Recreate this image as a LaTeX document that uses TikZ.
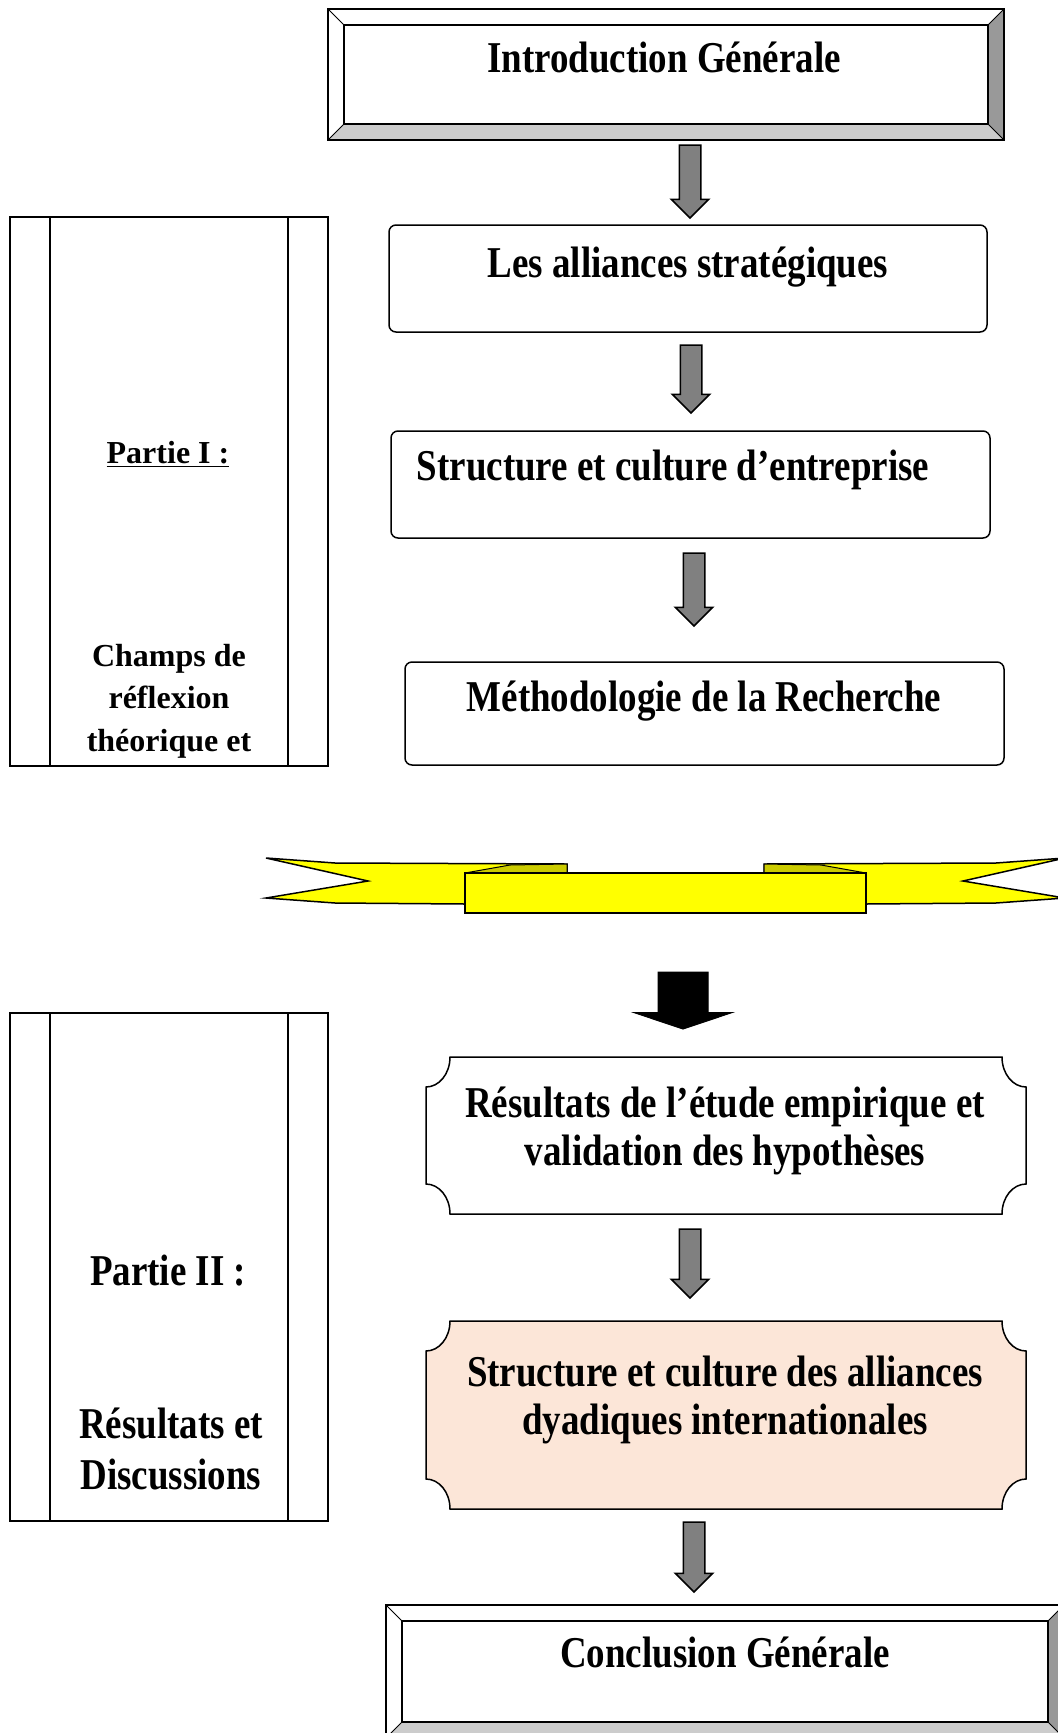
\documentclass[tikz,border=0pt]{standalone}
\usepackage{fontspec}
\setmainfont{Liberation Serif}
\newfontfamily\tallfont[FakeStretch=0.84]{Liberation Serif}
\usetikzlibrary{calc,shapes.arrows}
\definecolor{arrowgray}{HTML}{808080}
\definecolor{bevellight}{HTML}{CCCCCC}
\definecolor{beveldark}{HTML}{999999}
\definecolor{peach}{HTML}{FCE6D8}
\definecolor{ribbonyellow}{HTML}{FFFF00}
\definecolor{folddark}{HTML}{CCCC00}

% bevelled frame around a named node
\newcommand{\bevelframe}[1]{%
  \fill[bevellight] (#1.south west) -- (#1.south east) -- ($(#1.south east)+(-16,16)$) -- ($(#1.south west)+(16,16)$) -- cycle;
  \fill[beveldark] (#1.north east) -- (#1.south east) -- ($(#1.south east)+(-16,16)$) -- ($(#1.north east)+(-16,-16)$) -- cycle;
  \draw[line width=1.5pt] (#1.north west) rectangle (#1.south east);
  \draw[line width=1.5pt] ($(#1.north west)+(16,-16)$) rectangle ($(#1.south east)+(-16,16)$);
  \draw[line width=1pt] (#1.north west) -- ++(16,-16) (#1.north east) -- ++(-16,-16)
    (#1.south west) -- ++(16,16) (#1.south east) -- ++(-16,16);
}
% plaque with concave corners around a named node
\newcommand{\plaque}[2]{%
  \draw[line width=1.5pt, fill=#2]
    ($(#1.north west)+(24,0)$) -- ($(#1.north east)+(-24,0)$)
    .. controls ($(#1.north east)+(-24,-17)$) and ($(#1.north east)+(-13,-30)$) .. ($(#1.north east)+(0,-30)$)
    -- ($(#1.south east)+(0,30)$)
    .. controls ($(#1.south east)+(-13,30)$) and ($(#1.south east)+(-24,17)$) .. ($(#1.south east)+(-24,0)$)
    -- ($(#1.south west)+(24,0)$)
    .. controls ($(#1.south west)+(24,17)$) and ($(#1.south west)+(13,30)$) .. ($(#1.south west)+(0,30)$)
    -- ($(#1.north west)+(0,-30)$)
    .. controls ($(#1.north west)+(13,-30)$) and ($(#1.north west)+(24,-17)$) .. cycle;
}

\begin{document}
\begin{tikzpicture}[x=1pt, y=1pt,
  frame/.style={inner sep=0pt, outer sep=0pt},
  box/.style={draw, line width=1.5pt, rounded corners=7pt, fill=white, inner sep=0pt, outer sep=0pt},
  partbox/.style={draw, line width=1.5pt, inner sep=0pt, outer sep=0pt},
  title/.style={font=\tallfont\bfseries\fontsize{44}{48}\selectfont, align=center, inner sep=0pt},
  side/.style={font=\bfseries\fontsize{32}{42.5}\selectfont, align=center, inner sep=0pt},
  grayarrow/.style={single arrow, draw, fill=arrowgray, line width=1.5pt, rotate=-90, anchor=tail,
    inner xsep=0pt, inner ysep=10pt, single arrow head extend=8pt, outer sep=0pt},
  bigarrow/.style={single arrow, draw, fill=black, line width=1pt, rotate=-90, anchor=tail,
    inner xsep=0pt, inner ysep=24.5pt, minimum height=57pt, single arrow head extend=24pt,
    single arrow tip angle=143, outer sep=0pt},
]
\useasboundingbox (0,0) rectangle (1058,-1733);

% part I
\node[frame, minimum width=676pt, minimum height=131pt] (intro) at (666,-74.5) {};
\bevelframe{intro}
\node[title] (intro-t) at (664,-57.5) {Introduction Générale};

\node[box, minimum width=598pt, minimum height=107pt] (alli) at (688,-278.5) {};
\node[title] (alli-t) at (688,-267) {Les alliances stratégiques};
\node[box, minimum width=599pt, minimum height=107pt] (struct) at (690.5,-484.5) {};
\node[title] (struct-t) at (673,-470) {Structure et culture d’entreprise};
\node[box, minimum width=599pt, minimum height=103pt] (meth) at (704.5,-713.5) {};
\node[title] (meth-t) at (704,-701) {Méthodologie de la Recherche};

\node[grayarrow, minimum height=73pt] (ar1) at (690,-145) {};
\node[grayarrow, minimum height=68pt] (ar2) at (691,-345) {};
\node[grayarrow, minimum height=73pt] (ar3) at (694,-553) {};

\node[partbox, minimum width=318pt, minimum height=549pt] (p1) at (169,-491.5) {};
\draw[line width=1.5pt] ([xshift=40pt]p1.north west) -- ([xshift=40pt]p1.south west)
  ([xshift=-40pt]p1.north east) -- ([xshift=-40pt]p1.south east);
\node[side] (p1-t) at (168,-454) {\underline{Partie I :}};
\begin{scope}
  \clip (p1.north west) rectangle (p1.south east);
  \node[side] (p1-d) at (169,-701) {Champs de\\réflexion\\théorique et};
\end{scope}

% banner
\draw[line width=1.5pt, fill=ribbonyellow] (266,-858) -- (335,-863) -- (567,-864) -- (567,-873)
  -- (465,-873) -- (465,-904) -- (335,-903) -- (266,-898) -- (368,-881) -- cycle;
\draw[line width=1.5pt, fill=ribbonyellow] (1065,-858) -- (996,-863) -- (764,-864) -- (764,-873)
  -- (866,-873) -- (866,-904) -- (996,-903) -- (1065,-898) -- (963,-881) -- cycle;
\draw[line width=1pt, fill=folddark] (465,-873) -- (510,-865) -- (567,-864) -- (567,-874) -- cycle;
\draw[line width=1pt, fill=folddark] (866,-873) -- (821,-865) -- (764,-864) -- (764,-874) -- cycle;
\draw[line width=1.5pt, fill=ribbonyellow] (465,-873) rectangle (866,-913);

\node[bigarrow] (down) at (683,-972) {};

% part II
\node[frame, minimum width=600pt, minimum height=157pt] (res) at (726,-1135.5) {};
\plaque{res}{white}
\node[title] (res-t) at (725,-1130.5) {Résultats de l’étude empirique et\\validation des hypothèses};
\node[frame, minimum width=600pt, minimum height=188pt] (dyad) at (726,-1415) {};
\plaque{dyad}{peach}
\node[title] (dyad-t) at (725,-1400) {Structure et culture des alliances\\dyadiques internationales};

\node[frame, minimum width=678pt, minimum height=133pt] (concl) at (725,-1671.5) {};
\bevelframe{concl}
\node[title] (concl-t) at (725,-1652) {Conclusion Générale};

\node[grayarrow, minimum height=69pt] (ar4) at (690,-1229) {};
\node[grayarrow, minimum height=70pt] (ar5) at (694,-1522) {};

\node[partbox, minimum width=318pt, minimum height=508pt] (p2) at (169,-1267) {};
\draw[line width=1.5pt] ([xshift=40pt]p2.north west) -- ([xshift=40pt]p2.south west)
  ([xshift=-40pt]p2.north east) -- ([xshift=-40pt]p2.south east);
\node[title] (p2-t) at (168,-1271) {Partie II :};
\node[title, font=\tallfont\bfseries\fontsize{44}{51}\selectfont] (p2-d) at (171,-1448.5) {Résultats et\\Discussions};
\end{tikzpicture}
\end{document}
